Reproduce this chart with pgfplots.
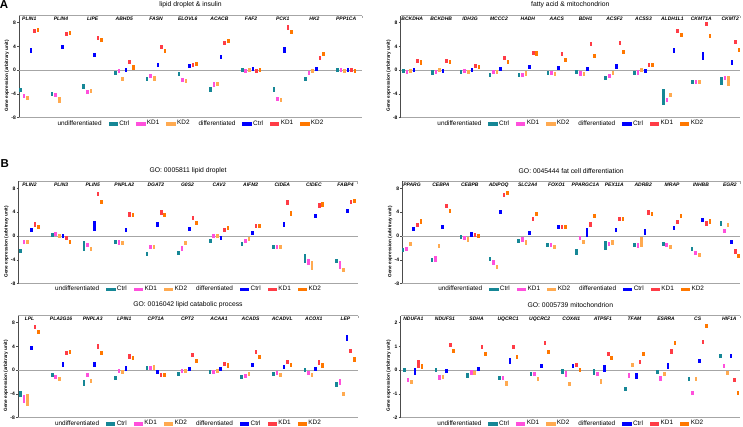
\documentclass[border=0pt]{standalone}
\usepackage{pgfplots}
\pgfplotsset{compat=1.18}
\usepackage{pgfplotstable}
\usepackage{fontspec}
\setmainfont{Liberation Sans}

\definecolor{tealc}{RGB}{22,135,150}
\definecolor{pinkc}{RGB}{255,80,220}
\definecolor{lorange}{RGB}{255,170,80}
\definecolor{bluec}{RGB}{0,0,255}
\definecolor{redc}{RGB}{255,60,70}
\definecolor{orangec}{RGB}{255,120,0}

\newcommand\genefont{\fontsize{5}{6}\selectfont\bfseries\itshape}
\newcommand\tickfont{\fontsize{5}{6}\selectfont\bfseries}
\newcommand\titfont{\fontsize{6.8}{8}\selectfont}
\newcommand\legfont{\fontsize{6.4}{7}\selectfont}
\newcommand\ylabfont{\fontsize{4.7}{5.5}\selectfont\bfseries}

% columns: g, undiff Ctrl/KD1/KD2 (a,b,c), diff Ctrl/KD1/KD2 (d,e,f), each with half-height
\pgfplotstableread{
g a ea b eb c ec d ed e ee f ef
0 -3.3 .35 -4.3 .35 -4.7 .35 3.3 .4 6.6 .35 6.7 .35
1 -4.0 .35 -4.2 .35 -5.0 .55 3.9 .35 6.1 .35 6.3 .35
2 -2.75 .4 -3.7 .35 -3.5 .35 2.5 .35 5.45 .35 5.1 .35
3 -0.45 .35 -0.2 .35 -1.5 .35 0.1 .35 1.45 .35 0.45 .35
4 -1.45 .35 -1.0 .35 -1.4 .35 0.9 .35 3.9 .35 3.2 .35
5 -0.6 .35 -1.6 .35 -1.8 .35 0.73 .35 0.9 .35 1.1 .35
6 -3.2 .4 -2.4 .35 -2.3 .35 2.2 .35 4.65 .35 4.9 .35
7 0 .35 -0.1 .35 0 .35 0.2 .35 -0.2 .35 0 .35
8 -3.25 .35 -4.8 .35 -5.05 .35 3.4 .45 7.2 .35 6.4 .35
9 -1.45 .35 -0.5 .35 -0.15 .35 0.15 .35 2.1 .35 2.7 .35
10 0.05 .35 0 .35 -0.15 .35 0 .35 0 .35 -0.15 .35
}\dataAL
\pgfplotstableread{
g a ea b eb c ec d ed e ee f ef
0 -0.15 .35 -0.3 .35 -0.15 .35 0.0 .35 1.55 .35 1.3 .35
1 -0.4 .35 -0.35 .35 0.05 .35 -0.1 .35 1.6 .35 1.4 .35
2 -0.3 .35 -0.1 .35 -0.35 .35 0.05 .35 0.73 .35 0.5 .35
3 -0.8 .35 -0.35 .35 -0.35 .35 0.15 .35 2.0 .35 1.4 .35
4 -0.85 .35 -0.8 .35 -0.55 .35 0.55 .35 2.85 .35 2.8 .35
5 -0.5 .35 -0.5 .35 -0.65 .35 0.4 .35 2.75 .35 1.75 .35
6 -0.3 .35 -0.55 .35 -0.65 .35 0.15 .35 4.4 .35 2.35 .35
7 -1.25 .35 -0.95 .35 -0.45 .35 0.65 .4 4.6 .35 3.1 .35
8 -0.5 .35 -0.4 .35 0.05 .35 -0.15 .35 0.85 .35 0.9 .35
9 -4.5 1.35 -4.95 .35 -4.15 .35 3.35 .4 6.6 .35 5.95 .35
10 -2.0 .35 -2.0 .35 -2.0 .35 2.4 .6 7.75 .3 5.8 .35
11 -1.85 .7 -1.25 .35 -1.8 .8 1.35 .45 4.8 .35 3.35 .35
}\dataAR
\pgfplotstableread{
g a ea b eb c ec d ed e ee f ef
0 -2.55 .35 -1.0 .35 -1.0 .35 0.95 .35 1.95 .35 1.5 .35
1 0.15 .35 0.35 .35 0.0 .35 0.0 .35 -0.35 .35 -1.05 .35
2 -1.7 .85 -1.45 .35 -2.25 .35 1.7 .9 7.1 .35 5.75 .35
3 -1.05 .35 -1.1 .35 -1.2 .35 1.05 .35 3.65 .4 3.55 .35
4 -3.1 .35 -1.85 .35 -1.85 .35 1.9 .4 3.95 .35 3.5 .35
5 -2.9 .35 -2.1 .35 -1.2 .35 1.2 .35 3.0 .35 2.15 .35
6 -0.85 .35 0.05 .35 0 .35 -0.4 .35 0.95 .35 1.3 .35
7 -1.35 .35 -0.85 .35 -0.5 .35 0.5 .35 1.7 .35 1.7 .35
8 -1.8 .35 -1.8 .35 -1.8 .35 1.95 .4 5.6 .4 3.8 .35
9 -3.75 .8 -4.4 .45 -4.95 .7 3.35 .35 5.15 .35 5.3 .35
10 -4.25 .35 -4.85 .65 -5.7 .35 4.2 .35 5.7 .35 5.95 .35
}\dataBL
\pgfplotstableread{
g a ea b eb c ec d ed e ee f ef
0 -2.4 .35 -2.2 .35 -1.3 .35 1.2 .35 1.9 .35 2.45 .35
1 -4.05 .4 -3.9 .45 -1.65 .35 1.5 .35 5.0 .35 4.2 .35
2 -0.15 .35 -0.4 .35 -0.6 .35 0.25 .35 0.1 .35 0.05 .35
3 -3.9 .35 -4.5 .45 -5.2 .4 4.05 .35 6.85 .35 7.25 .35
4 -0.9 .35 -0.6 .35 -1.1 .35 0.5 .35 2.8 .35 3.7 .35
5 -1.5 .35 -1.55 .35 -1.85 .35 1.45 .35 1.45 .35 1.55 .35
6 -2.7 .45 -0.35 .4 -1.0 .35 0.6 .8 1.95 .35 3.3 .35
7 -1.6 .75 -1.35 .35 -1.1 .35 0.95 .35 2.8 .35 2.8 .35
8 -1.55 .35 -1.6 .35 -1.0 .8 0.65 .45 3.95 .35 3.65 .35
9 -1.4 .35 -1.55 .35 -1.85 .4 1.4 .35 2.3 .35 3.3 .35
10 -2.15 .35 -2.9 .35 -3.25 .35 2.65 .35 2.1 .35 2.45 .35
11 2.1 .35 0.85 .35 1.85 .35 -1.05 .35 -2.6 .4 -3.35 .4
}\dataBR
\pgfplotstableread{
g a ea b eb c ec d ed e ee f ef
0 -4.0 .45 -4.85 .7 -5.0 .95 3.7 .35 7.25 .35 6.4 .35
1 -0.85 .35 -1.1 .35 -1.5 .35 0.95 .35 2.85 .35 3.0 .35
2 -2.2 .5 -0.75 .35 -1.85 .35 0.95 .35 4.0 .35 2.85 .35
3 -1.25 .35 -0.2 .35 -0.3 .35 0.3 .35 2.3 .35 2.05 .35
4 0.4 .35 0.4 .35 0.45 .35 -0.35 .35 -0.75 .35 -0.85 .35
5 -0.7 .35 -0.1 .35 -0.2 .35 0.15 .35 2.5 .35 1.55 .35
6 -0.35 .35 -0.35 .35 -0.1 .35 0.2 .35 1.1 .35 0.8 .35
7 -1.2 .35 -0.95 .35 -0.7 .35 0.85 .35 3.1 .35 2.2 .35
8 -0.7 .35 -0.4 .35 -0.85 .35 0.5 .35 1.35 .35 0.85 .35
9 0.0 .35 -0.45 .35 -0.75 .35 0.15 .35 1.3 .35 0.8 .35
10 -2.35 .4 -2.0 .5 -4.0 .35 5.45 .45 3.3 .35 1.8 .35
}\dataCL
\pgfplotstableread{
g a ea b eb c ec d ed e ee f ef
0 0.0 .085 -0.4 .09 -0.5 .085 -0.05 .15 0.25 .17 0.15 .12
1 0.0 .085 -0.3 .1 -0.27 .085 -0.02 .085 1.07 .085 0.8 .085
2 -0.22 .1 -0.1 .1 -0.1 .085 0.07 .085 0.97 .085 0.7 .085
3 -0.32 .085 -0.34 .085 -0.56 .085 0.39 .12 0.99 .085 0.56 .085
4 -0.17 .085 -0.15 .085 -0.38 .085 0.18 .085 1.15 .085 0.78 .085
5 -0.06 .12 -0.17 .12 -0.6 .085 0.17 .085 0.2 .085 0.0 .085
6 -0.08 .12 -0.18 .085 -0.46 .1 0.07 .13 0.68 .085 0.52 .085
7 -0.81 .085 -0.21 .1 0.2 .085 -0.25 .12 0.33 .085 0.68 .085
8 -0.08 .085 -0.35 .085 -0.18 .085 0.17 .12 0.78 .1 1.16 .085
9 -0.36 .085 -0.94 .085 -0.36 .085 0.39 .085 1.2 .085 1.87 .085
10 0.6 .085 0.18 .1 -0.11 .085 0.6 .085 -0.41 .085 -0.98 .085
}\dataCR

\pgfplotsset{
  grp/.style={forget plot, draw=none, mark=none,
    error bars/.cd, y dir=both, y explicit, error mark=none,
    error bar style={line width=2.6pt, draw=#1, solid}},
  legsq/.style={legend image code/.code={\fill[#1] (0pt,-1.4pt) rectangle (8.3pt,1.4pt);}},
  panel/.style={scale only axis, anchor=south west, height=102pt,
    ymin=-8, ymax=9.18, ytick={-8,-4,0,4,8}, yticklabels={-8,-4,0,4,8},
    axis x line*=top, axis y line*=left,
    x axis line style={-, draw=gray!70, line width=0.6pt},
    y axis line style={-, draw=black!70, line width=0.6pt},
    tick align=outside, major tick length=2pt,
    ytick style={draw=black!70, line width=0.5pt},
    xtick style={draw=none},
    yticklabel style={font=\tickfont, inner sep=1pt},
    xticklabel style={font=\genefont, anchor=north, yshift=-2.6pt, inner sep=0.5pt},
    ylabel={Gene expression (arbitrary unit)},
    ylabel style={font=\ylabfont, at={(ticklabel cs:0.41)}, inner sep=1pt},
    title style={font=\titfont, at={(0.5,1)}, anchor=south, inner sep=1pt, yshift=0.6pt},
    clip=false,
    legend columns=8,
    legend style={draw=none, fill=none, font=\legfont, at={(0.5,0)}, anchor=north,
      inner sep=0pt, yshift=-0.5pt,
      /tikz/every even column/.append style={column sep=5pt},
      /tikz/column 2/.style={column sep=2pt},
      /tikz/column 10/.style={column sep=2pt},
      /tikz/column 8/.style={column sep=22pt}},
  },
}

\newcommand\sixs[2]{%
  \draw[gray!70, line width=0.5pt] (axis cs:\pgfkeysvalueof{/pgfplots/xmin},0) -- (axis cs:\pgfkeysvalueof{/pgfplots/xmax},0);
  \draw[gray!70, line width=0.6pt] (rel axis cs:0,0) -- (rel axis cs:1,0);
  \draw[gray!70, line width=0.6pt] (rel axis cs:1,1) -- ([yshift=-2.5pt]rel axis cs:1,1);
  \addplot[grp=tealc] table[x expr=\thisrow{g}-2.5*#2, y=a, y error=ea]{#1};
  \addplot[grp=pinkc] table[x expr=\thisrow{g}-1.5*#2, y=b, y error=eb]{#1};
  \addplot[grp=lorange] table[x expr=\thisrow{g}-0.5*#2, y=c, y error=ec]{#1};
  \addplot[grp=bluec] table[x expr=\thisrow{g}+0.5*#2, y=d, y error=ed]{#1};
  \addplot[grp=redc] table[x expr=\thisrow{g}+1.5*#2, y=e, y error=ee]{#1};
  \addplot[grp=orangec] table[x expr=\thisrow{g}+2.5*#2, y=f, y error=ef]{#1};
  \addlegendimage{empty legend}\addlegendentry{undifferentiated}
  \addlegendimage{legsq=tealc}\addlegendentry{Ctrl}
  \addlegendimage{legsq=pinkc}\addlegendentry{KD1}
  \addlegendimage{legsq=lorange}\addlegendentry{KD2}
  \addlegendimage{empty legend}\addlegendentry{differentiated}
  \addlegendimage{legsq=bluec}\addlegendentry{Ctrl}
  \addlegendimage{legsq=redc}\addlegendentry{KD1}
  \addlegendimage{legsq=orangec}\addlegendentry{KD2}
}

\begin{document}
\begin{tikzpicture}
\useasboundingbox (0,0) rectangle (743pt,426pt);
\node[font=\fontsize{11.5}{12}\selectfont\bfseries] at (4pt,421.8pt) {A};
\node[font=\fontsize{11.5}{12}\selectfont\bfseries] at (4.7pt,262pt) {B};

% A left
\begin{axis}[panel, at={(19pt,308.3pt)}, width=343pt,
  xmin=-0.325, xmax=10.5, xtick={0,...,10},
  xticklabels={PLIN1,PLIN4,LIPE,ABHD5,FASN,ELOVL6,ACACB,FAF2,PCK1,HK2,PPP1CA},
  title={lipid droplet \& insulin}]
\sixs{\dataAL}{0.112}
\end{axis}

% A right
\begin{axis}[panel, at={(400.7pt,308.3pt)}, width=339.3pt,
  xmin=-0.40, xmax=11.34, xtick={0,...,11},
  xticklabels={BCKDHA,BCKDHB,IDH3G,MCCC2,HADH,AACS,BDH1,ACSF2,ACSS3,ALDH1L1,CKMT1A,CKMT2},
  title={fatty acid \& mitochondrion}]
\sixs{\dataAR}{0.123}
\end{axis}

% B left
\begin{axis}[panel, at={(18.5pt,142.5pt)}, width=339.2pt,
  xmin=-0.348, xmax=10.386, xtick={0,...,10},
  xticklabels={PLIN2,PLIN3,PLIN5,PNPLA2,DGAT2,G0S2,CAV2,AIFM2,CIDEA,CIDEC,FABP4},
  title={GO: 0005811 lipid droplet}]
\sixs{\dataBL}{0.112}
\end{axis}

% B right
\begin{axis}[panel, at={(402.3pt,142.5pt)}, width=337.7pt,
  xmin=-0.336, xmax=11.35, xtick={0,...,11},
  xticklabels={PPARG,CEBPA,CEBPB,ADIPOQ,SLC2A4,FOXO1,PPARGC1A,PEX11A,ADRB2,MRAP,INHBB,EGR2},
  title={GO: 0045444 fat cell differentiation}]
\sixs{\dataBR}{0.123}
\end{axis}

% C left
\begin{axis}[panel, at={(18pt,8.3pt)}, width=340pt,
  xmin=-0.364, xmax=10.40, xtick={0,...,10},
  xticklabels={LPL,PLA2G16,PNPLA3,LPIN1,CPT1A,CPT2,ACAA1,ACADS,ACADVL,ACOX1,LEP},
  title={GO: 0016042 lipid catabolic process}]
\sixs{\dataCL}{0.112}
\end{axis}

% C right
\begin{axis}[panel, at={(400.7pt,8.3pt)}, width=339.3pt,
  ymin=-2, ymax=2.295, ytick={-2,-1,0,1,2}, yticklabels={-2,-1,0,1,2},
  xmin=-0.40, xmax=10.34, xtick={0,...,10},
  xticklabels={NDUFA1,NDUFS1,SDHA,UQCRC1,UQCRC2,COX4I1,ATP5F1,TFAM,ESRRA,CS,HIF1A},
  title={GO: 0005739 mitochondrion}]
\sixs{\dataCR}{0.112}
\end{axis}
\end{tikzpicture}
\end{document}
